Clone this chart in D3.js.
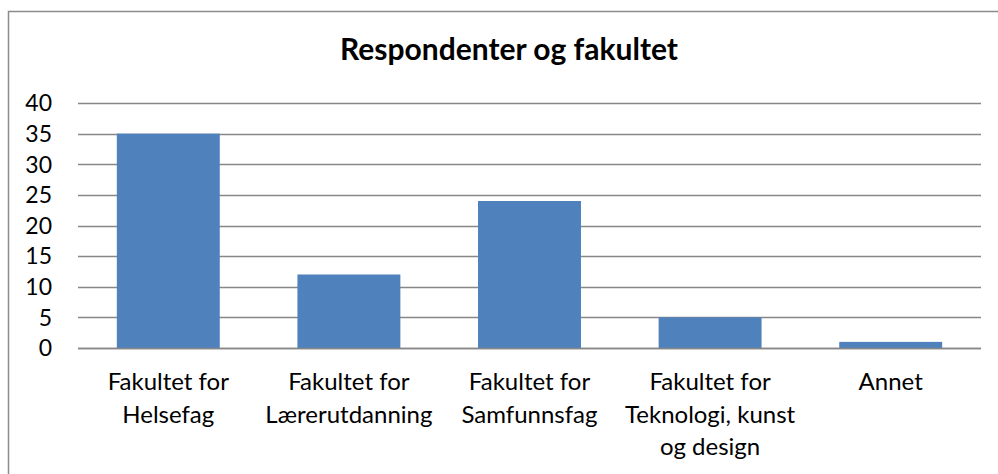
<!DOCTYPE html>
<html>
<head>
<meta charset="utf-8">
<script src="https://cdn.jsdelivr.net/npm/d3@7"></script>
<style>
  body { margin: 0; background: #fff; }
  text { font-family: Lato, "Open Sans", sans-serif; fill: #000; }
</style>
</head>
<body>
<div class="chart"></div>
<script>
const title = "Respondenter og fakultet";
const categories = ["Helsefag", "Lærerutdanning", "Samfunnsfag", "Teknologi", "Annet"];
const labelLines = [
  ["Fakultet for", "Helsefag"],
  ["Fakultet for", "Lærerutdanning"],
  ["Fakultet for", "Samfunnsfag"],
  ["Fakultet for", "Teknologi, kunst", "og design"],
  ["Annet"],
];
const values = [35, 12, 24, 5, 1];
const yTicks = [0, 5, 10, 15, 20, 25, 30, 35, 40];

const width = 998;
const height = 474;

const svg = d3
  .select(".chart")
  .append("svg")
  .attr("width", width)
  .attr("height", height);

// outer chart border (runs off right and bottom edge)
svg
  .append("rect")
  .attr("x", 8.5)
  .attr("y", 11.5)
  .attr("width", 1100)
  .attr("height", 600)
  .attr("fill", "none")
  .attr("stroke", "#8c8c8c")
  .attr("stroke-width", 1.5);

const x = d3
  .scaleBand()
  .domain(categories)
  .range([78, 981])
  .paddingInner(0.43)
  .paddingOuter(0.215);

const y = d3.scaleLinear().domain([0, 40]).range([348, 103]);

// gridlines
svg
  .append("g")
  .selectAll("line")
  .data(yTicks)
  .join("line")
  .attr("x1", 78)
  .attr("x2", 981)
  .attr("y1", (d) => Math.round(y(d)) + 0.5)
  .attr("y2", (d) => Math.round(y(d)) + 0.5)
  .attr("stroke", "#878787")
  .attr("stroke-width", 1.5);

// y labels
svg
  .append("g")
  .selectAll("text")
  .data(yTicks)
  .join("text")
  .attr("x", 52)
  .attr("y", (d) => y(d))
  .attr("dy", "0.36em")
  .attr("text-anchor", "end")
  .style("font-size", "23px")
  .text((d) => d);

// bars
svg
  .append("g")
  .selectAll("rect")
  .data(values)
  .join("rect")
  .attr("x", (d, i) => x(categories[i]))
  .attr("width", x.bandwidth())
  .attr("y", (d) => y(d))
  .attr("height", (d) => y(0) - y(d))
  .attr("fill", "#4f81bd");

// redraw baseline on top
svg
  .append("line")
  .attr("x1", 78)
  .attr("x2", 981)
  .attr("y1", Math.round(y(0)) + 0.5)
  .attr("y2", Math.round(y(0)) + 0.5)
  .attr("stroke", "#878787")
  .attr("stroke-width", 1.5);

// category labels
const cat = svg
  .append("g")
  .selectAll("text")
  .data(categories)
  .join("text")
  .attr("text-anchor", "middle")
  .style("font-size", "24px");

cat
  .selectAll("tspan")
  .data((d, i) => labelLines[i].map((t) => ({ t, c: d })))
  .join("tspan")
  .attr("x", (d) => x(d.c) + x.bandwidth() / 2)
  .attr("y", (d, j) => 390 + j * 32.5)
  .text((d) => d.t);

// title
svg
  .append("text")
  .attr("x", 509)
  .attr("y", 60)
  .attr("text-anchor", "middle")
  .style("font-size", "30px")
  .style("font-weight", "bold")
  .text(title);
</script>
</body>
</html>
